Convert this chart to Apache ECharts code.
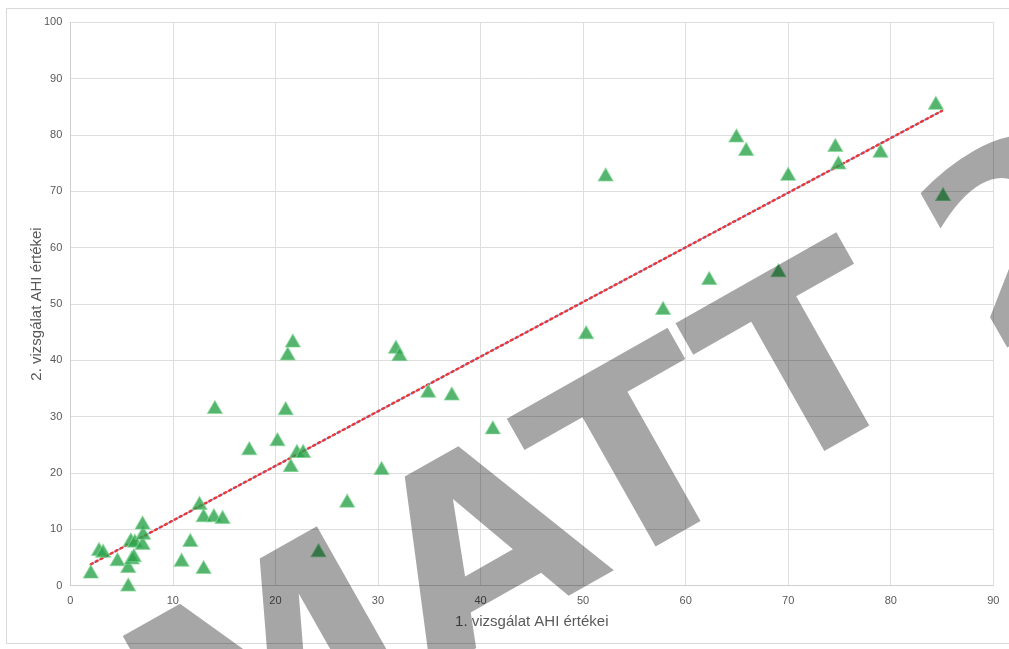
<!DOCTYPE html>
<html>
<head>
<meta charset="utf-8">
<script src="https://cdn.jsdelivr.net/npm/echarts@6/dist/echarts.min.js"></script>
<style>
  html, body { margin: 0; padding: 0; background: #ffffff; }
  #chart { width: 1009px; height: 649px; }
</style>
</head>
<body>
<div id="chart"></div>
<script>
// AHI values: first examination (x) vs second examination (y)
const firstAhi = [2.0, 2.8, 3.2, 4.6, 5.65, 5.65, 6.0, 6.2, 5.9, 6.3, 7.05, 7.1, 7.05,
  11.7, 10.85, 13.0, 12.6, 13.0, 14.0, 14.85, 14.1, 17.45, 20.2, 21.0, 21.2, 21.7,
  21.5, 22.1, 22.7, 24.2, 27.0, 30.35, 31.75, 32.1, 34.9, 37.2, 41.2, 50.3, 52.2,
  57.8, 62.3, 64.95, 65.9, 70.0, 69.05, 74.6, 74.9, 79.0, 84.4, 85.1];
const secondAhi = [2.5, 6.5, 6.2, 4.7, 3.5, 0.2, 5.0, 5.4, 8.2, 8.0, 7.6, 9.4, 11.2,
  8.1, 4.6, 3.3, 14.7, 12.5, 12.5, 12.2, 31.7, 24.4, 26.0, 31.5, 41.2, 43.5,
  21.4, 23.9, 23.9, 6.3, 15.1, 20.9, 42.4, 41.1, 34.6, 34.1, 28.1, 45.0, 73.0,
  49.3, 54.6, 79.9, 77.5, 73.1, 56.0, 78.2, 75.1, 77.2, 85.7, 69.5];

// Linear trend line end points
const trendX = [2.0, 85.0];
const trendY = [3.8, 84.3];

// Axis ranges and tick step
const xRange = [0, 90];
const yRange = [0, 100];
const tickStep = 10;

const xTitle = '1. vizsgálat AHI értékei';
const yTitle = '2. vizsgálat AHI értékei';
const watermarkText = 'MATT\u20052';

const points = firstAhi.map((v, i) => [v, secondAhi[i]]);
const trend = trendX.map((v, i) => [v, trendY[i]]);

const chart = echarts.init(document.getElementById('chart'), null, { renderer: 'canvas' });

const axisLabelStyle = { color: '#595959', fontSize: 11, fontFamily: 'Liberation Sans, Arial, sans-serif' };
const nameStyle = { color: '#595959', fontSize: 15, fontFamily: 'Liberation Sans, Arial, sans-serif' };

// Diagonal translucent watermark; the group origin sits on the text baseline
const wmFontSize = 275;
const watermark = {
  type: 'group', silent: true, z: 100,
  x: 191, y: 808, rotation: 29.5 * Math.PI / 180, scaleY: 0.92,
  children: [{
    type: 'text', silent: true, z: 100,
    x: 0, y: -0.255 * wmFontSize,
    style: {
      text: watermarkText,
      font: 'bold ' + wmFontSize + 'px "DejaVu Sans"',
      fill: 'rgba(0,0,0,0.35)',
      align: 'left', verticalAlign: 'middle'
    }
  }]
};

chart.setOption({
  animation: false,
  backgroundColor: '#ffffff',
  grid: { left: 70.3, right: 15.7, top: 22.3, bottom: 63.3, containLabel: false },
  xAxis: {
    type: 'value', min: xRange[0], max: xRange[1], interval: tickStep,
    name: xTitle, nameLocation: 'middle', nameGap: 29, nameTextStyle: nameStyle,
    nameMoveOverlap: false,
    axisLine: { show: true, lineStyle: { color: '#cfcfcf', width: 1 } },
    axisTick: { show: false },
    axisLabel: Object.assign({ margin: 10 }, axisLabelStyle),
    splitLine: { show: true, lineStyle: { color: '#dedede', width: 1 } }
  },
  yAxis: {
    type: 'value', min: yRange[0], max: yRange[1], interval: tickStep,
    name: yTitle, nameLocation: 'middle', nameGap: 26, nameRotate: 90, nameTextStyle: nameStyle,
    nameMoveOverlap: false,
    axisLine: { show: true, lineStyle: { color: '#cfcfcf', width: 1 } },
    axisTick: { show: false },
    axisLabel: Object.assign({ margin: 8 }, axisLabelStyle),
    splitLine: { show: true, lineStyle: { color: '#dedede', width: 1 } }
  },
  series: [
    {
      type: 'line', data: trend, symbol: 'none', silent: true, z: 3,
      lineStyle: { color: '#8fb1f2', width: 1.5 }
    },
    {
      type: 'line', data: trend, symbol: 'none', silent: true, z: 4,
      lineStyle: { color: '#e83838', width: 2.5, type: [2, 3.6], cap: 'round' }
    },
    {
      type: 'scatter', data: points, symbol: 'triangle', symbolSize: [15, 13], z: 5,
      itemStyle: { color: '#2aa24a', borderColor: 'rgba(130,215,150,0.9)', borderWidth: 1 }
    }
  ],
  graphic: [
    {
      type: 'rect', z: 0, silent: true,
      shape: { x: 6.5, y: 8.5, width: 1010, height: 635 },
      style: { fill: 'none', stroke: '#d9d9d9', lineWidth: 1 }
    },
    watermark
  ]
});
</script>
</body>
</html>
